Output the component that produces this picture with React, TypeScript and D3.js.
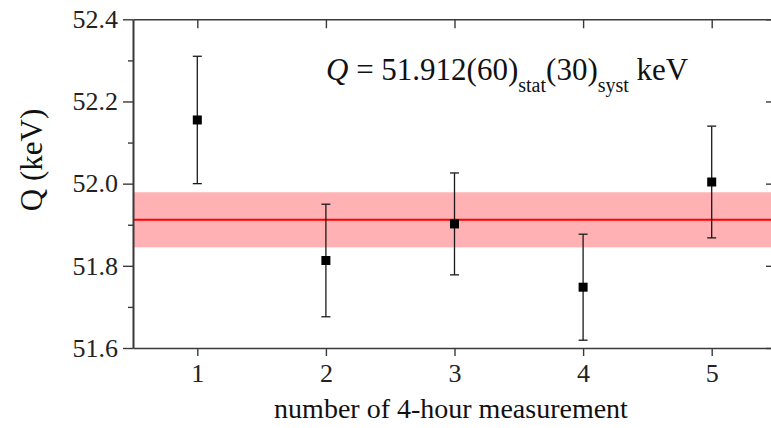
import React, { useEffect, useRef } from "react";
import * as d3 from "d3";

// Q-value per 4-hour run with weighted mean line and its uncertainty band.
const runs = [1, 2, 3, 4, 5];
const qValues = [52.155, 51.813, 51.902, 51.748, 52.004];
const qErrors = [0.155, 0.137, 0.124, 0.129, 0.136];
const meanQ = 51.912;
const meanErr = 0.067;
const yMajorTicks = [51.6, 51.8, 52.0, 52.2, 52.4];
const yMinorTicks = [51.7, 51.9, 52.1, 52.3];

const FONT = "'Liberation Serif', 'Times New Roman', serif";
const AXIS = "#3a3a3a";

export default function App() {
  const ref = useRef<SVGSVGElement | null>(null);

  useEffect(() => {
    const svg = d3.select(ref.current);
    svg.selectAll("*").remove();

    const left = 133;
    const right = 776;
    const top = 19.3;
    const bottom = 348;

    const x = d3.scaleLinear().domain([0.5, 5.5]).range([left, right]);
    const y = d3.scaleLinear().domain([51.6, 52.4]).range([bottom, top]);

    // uncertainty band + mean line
    svg
      .append("rect")
      .attr("x", left)
      .attr("width", right - left)
      .attr("y", y(meanQ + meanErr))
      .attr("height", y(meanQ - meanErr) - y(meanQ + meanErr))
      .attr("fill", "#ffb1b3");
    svg
      .append("line")
      .attr("x1", left)
      .attr("x2", right)
      .attr("y1", y(meanQ))
      .attr("y2", y(meanQ))
      .attr("stroke", "#ff0000")
      .attr("stroke-width", 2);

    const styleAxis = (g: any) => {
      g.attr("font-family", FONT).attr("font-size", 26);
      g.select(".domain").attr("stroke", AXIS).attr("stroke-width", 1.6);
      g.selectAll(".tick line").attr("stroke", AXIS).attr("stroke-width", 1.4);
      g.selectAll("text").attr("fill", "#222");
    };

    // left axis: major + minor ticks pointing out
    svg
      .append("g")
      .attr("transform", `translate(${left},0)`)
      .call(d3.axisLeft(y).tickValues(yMinorTicks).tickSize(5).tickSizeOuter(0).tickFormat(() => ""))
      .call(styleAxis);
    svg
      .append("g")
      .attr("transform", `translate(${left},0)`)
      .call(
        d3
          .axisLeft(y)
          .tickValues(yMajorTicks)
          .tickSize(10)
          .tickSizeOuter(0)
          .tickPadding(5)
          .tickFormat(d3.format(".1f"))
      )
      .call(styleAxis);

    // right axis: ticks pointing in
    svg
      .append("g")
      .attr("transform", `translate(${right},0)`)
      .call(d3.axisRight(y).tickValues(yMinorTicks).tickSize(-5).tickSizeOuter(0).tickFormat(() => ""))
      .call(styleAxis);
    svg
      .append("g")
      .attr("transform", `translate(${right},0)`)
      .call(d3.axisRight(y).tickValues(yMajorTicks).tickSize(-10).tickSizeOuter(0).tickFormat(() => ""))
      .call(styleAxis);

    // bottom axis
    svg
      .append("g")
      .attr("transform", `translate(0,${bottom})`)
      .call(d3.axisBottom(x).tickValues(runs).tickSize(8).tickSizeOuter(0).tickPadding(8).tickFormat(d3.format("d")))
      .call(styleAxis);

    // top axis, ticks inward
    svg
      .append("g")
      .attr("transform", `translate(0,${top})`)
      .call(d3.axisTop(x).tickValues(runs).tickSize(-9).tickSizeOuter(0).tickFormat(() => ""))
      .call(styleAxis);

    // error bars
    const pts = runs.map((r, i) => ({ r, q: qValues[i], e: qErrors[i] }));
    const eb = svg.append("g").attr("stroke", "#1a1a1a").attr("stroke-width", 1.3);
    pts.forEach((p) => {
      const cx = x(p.r);
      eb.append("line").attr("x1", cx).attr("x2", cx).attr("y1", y(p.q + p.e)).attr("y2", y(p.q - p.e));
      [p.q + p.e, p.q - p.e].forEach((v) => {
        eb.append("line")
          .attr("x1", cx - 4.5)
          .attr("x2", cx + 4.5)
          .attr("y1", y(v))
          .attr("y2", y(v));
      });
    });

    svg
      .append("g")
      .selectAll("rect")
      .data(pts)
      .join("rect")
      .attr("x", (d) => x(d.r) - 4.5)
      .attr("y", (d) => y(d.q) - 4.5)
      .attr("width", 9)
      .attr("height", 9)
      .attr("fill", "#000");

    // axis titles
    svg
      .append("text")
      .attr("x", 451)
      .attr("y", 418)
      .attr("text-anchor", "middle")
      .attr("font-family", FONT)
      .attr("font-size", 28)
      .attr("fill", "#111")
      .text("number of 4-hour measurement");

    svg
      .append("text")
      .attr("transform", "translate(42,160) rotate(-90)")
      .attr("text-anchor", "middle")
      .attr("font-family", FONT)
      .attr("font-size", 31)
      .attr("fill", "#111")
      .text("Q (keV)");

    // result annotation
    const ann = svg
      .append("text")
      .attr("x", 326)
      .attr("y", 80)
      .attr("font-family", FONT)
      .attr("font-size", 31)
      .attr("fill", "#111");
    ann.append("tspan").attr("font-style", "italic").text("Q");
    ann.append("tspan").text(" = 51.912(60)");
    ann.append("tspan").attr("dy", 12).attr("font-size", 20).text("stat");
    ann.append("tspan").attr("dy", -12).text("(30)");
    ann.append("tspan").attr("dy", 12).attr("font-size", 20).text("syst");
    ann.append("tspan").attr("dy", -12).text(" keV");
  }, []);

  return (
    <svg
      ref={ref}
      width={771}
      height={428}
      style={{ position: "absolute", left: 0, top: 0, background: "#fff", overflow: "hidden" }}
    />
  );
}
